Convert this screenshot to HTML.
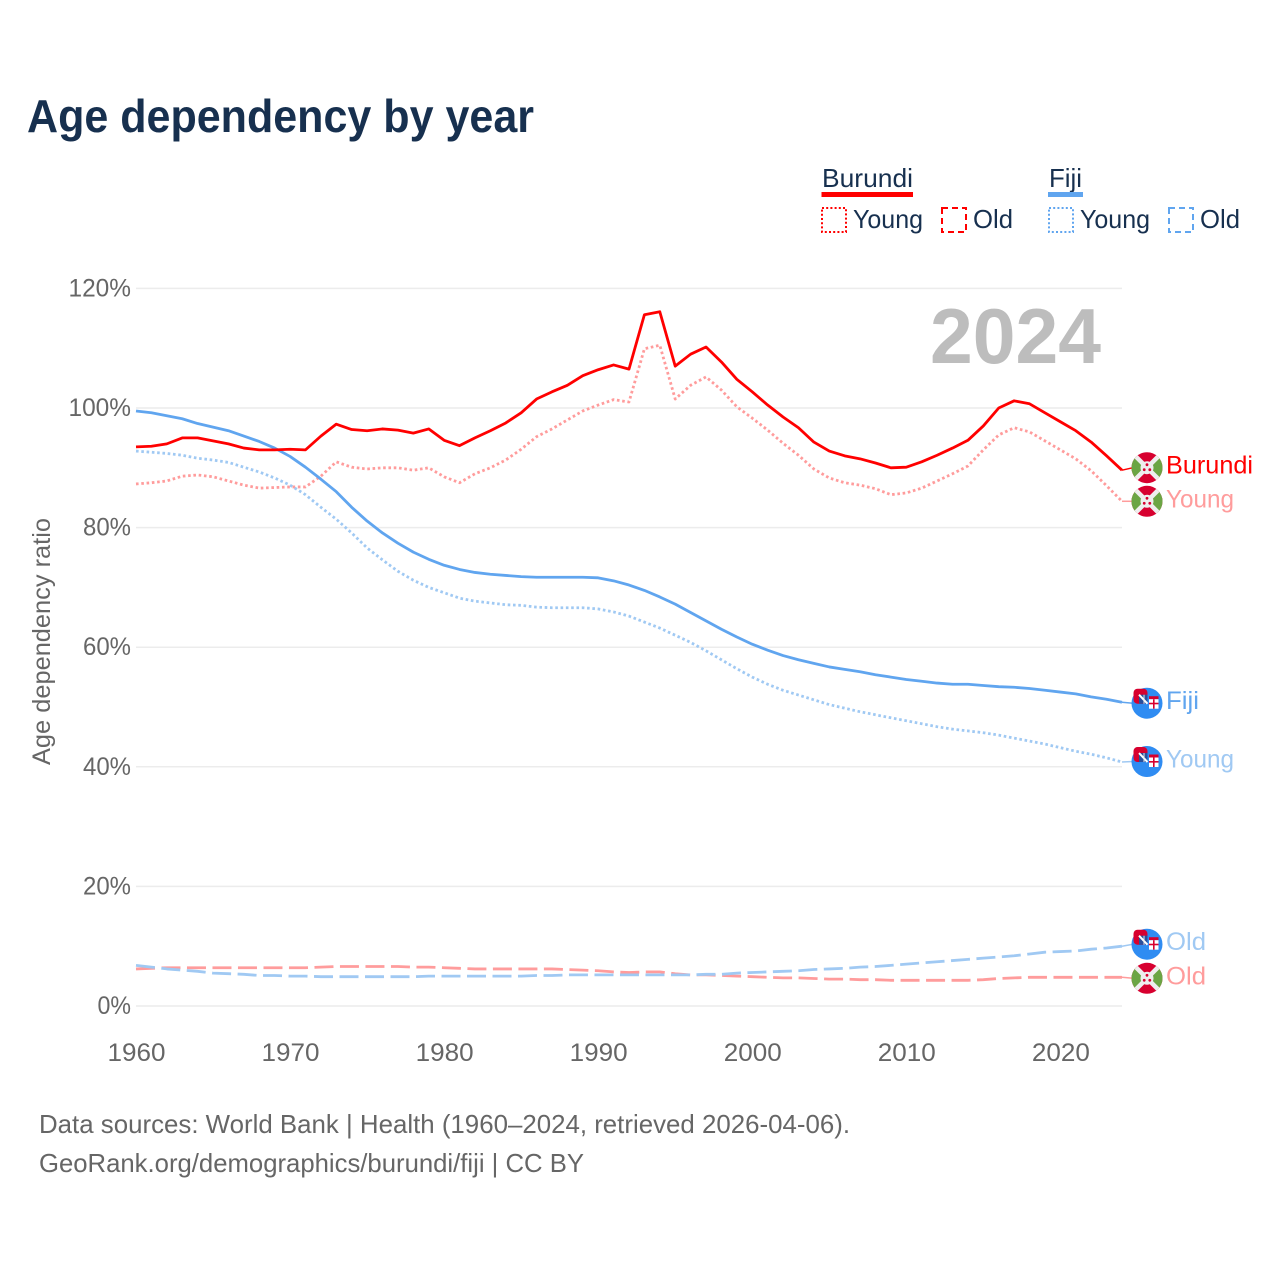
<!DOCTYPE html>
<html lang="en">
<head>
<meta charset="utf-8">
<title>Age dependency by year</title>
<style>
html,body{margin:0;padding:0;background:#fff}
svg{display:block;font-family:"Liberation Sans",Arial,sans-serif}
</style>
</head>
<body>
<svg id="chart" width="1280" height="1280" viewBox="0 0 1280 1280" xmlns="http://www.w3.org/2000/svg">
  <defs>
    <clipPath id="flag-clip"><circle cx="0" cy="0" r="15.5"/></clipPath>
    <g id="flag-burundi">
      <g clip-path="url(#flag-clip)">
        <rect x="-16" y="-16" width="32" height="32" fill="#d7002f"/>
        <polygon points="-16,-16 0,0 -16,16" fill="#6ba544"/>
        <polygon points="16,-16 0,0 16,16" fill="#6ba544"/>
        <line x1="-16" y1="-16" x2="16" y2="16" stroke="#eeeeee" stroke-width="4.5"/>
        <line x1="16" y1="-16" x2="-16" y2="16" stroke="#eeeeee" stroke-width="4.5"/>
        <circle cx="0" cy="0" r="6.5" fill="#eeeeee"/>
        <circle cx="0" cy="-3" r="1.4" fill="#d7002f"/>
        <circle cx="-2.8" cy="2" r="1.4" fill="#d7002f"/>
        <circle cx="2.8" cy="2" r="1.4" fill="#d7002f"/>
      </g>
    </g>
    <g id="flag-fiji">
      <circle cx="0" cy="0" r="15.5" fill="#2f8cf2"/>
      <rect x="-13.5" y="-14.5" width="14" height="15" rx="4" fill="#d7002f"/>
      <rect x="-8" y="-8.5" width="8.5" height="9" fill="#2a4f9c"/>
      <line x1="-8" y1="-8.5" x2="0.5" y2="0.5" stroke="#ffffff" stroke-width="2"/>
      <line x1="-3" y1="-8.5" x2="-3" y2="0.5" stroke="#e8e8e8" stroke-width="1"/>
      <rect x="2" y="-7" width="9.5" height="3" fill="#d7002f"/>
      <rect x="2" y="-4" width="9.5" height="9.5" fill="#ffffff"/>
      <rect x="6" y="-4" width="1.6" height="9.5" fill="#d7002f"/>
      <rect x="2" y="-0.5" width="9.5" height="1.6" fill="#d7002f"/>
    </g>
  </defs>

  <rect x="0" y="0" width="1280" height="1280" fill="#ffffff"/>

  <text x="27" y="132" font-size="46" font-weight="700" fill="#17304f" textLength="507" lengthAdjust="spacingAndGlyphs">Age dependency by year</text>

  <g>
    <g>
      <text x="822" y="187" font-size="26" fill="#17304f" textLength="91" lengthAdjust="spacingAndGlyphs">Burundi</text>
      <rect x="821.5" y="192" width="91.5" height="5" fill="#ff0000"/>
    </g>
    <g>
      <rect x="822" y="208" width="24" height="24" fill="none" stroke="#ff0000" stroke-width="2" stroke-dasharray="2 2.2"/>
      <text x="853" y="228" font-size="26" fill="#17304f" textLength="70" lengthAdjust="spacingAndGlyphs">Young</text>
    </g>
    <g>
      <rect x="942" y="208" width="24" height="24" fill="none" stroke="#ff0000" stroke-width="2" stroke-dasharray="6 4"/>
      <text x="973" y="228" font-size="26" fill="#17304f" textLength="40" lengthAdjust="spacingAndGlyphs">Old</text>
    </g>
    <g>
      <text x="1049" y="187" font-size="26" fill="#17304f" textLength="33" lengthAdjust="spacingAndGlyphs">Fiji</text>
      <rect x="1048" y="192" width="35" height="5" fill="#60a5ef"/>
    </g>
    <g>
      <rect x="1049" y="208" width="24" height="24" fill="none" stroke="#60a5ef" stroke-width="2" stroke-dasharray="2 2.2"/>
      <text x="1080" y="228" font-size="26" fill="#17304f" textLength="70" lengthAdjust="spacingAndGlyphs">Young</text>
    </g>
    <g>
      <rect x="1169" y="208" width="24" height="24" fill="none" stroke="#60a5ef" stroke-width="2" stroke-dasharray="6 4"/>
      <text x="1200" y="228" font-size="26" fill="#17304f" textLength="40" lengthAdjust="spacingAndGlyphs">Old</text>
    </g>
  </g>

  <g id="grid"></g>
  <g id="yticks"></g>
  <g id="xticks"></g>

  <text transform="translate(50,641.5) rotate(-90)" text-anchor="middle" font-size="25" fill="#666666" textLength="247" lengthAdjust="spacingAndGlyphs">Age dependency ratio</text>

  <text x="930" y="363" font-size="78" font-weight="700" fill="#bdbdbd" textLength="171" lengthAdjust="spacingAndGlyphs">2024</text>

  <g id="series"></g>
  <g id="endlabels"></g>

  <text x="39" y="1133" font-size="26" fill="#666666" textLength="811" lengthAdjust="spacingAndGlyphs">Data sources: World Bank | Health (1960–2024, retrieved 2026-04-06).</text>
  <text x="39" y="1172" font-size="26" fill="#666666" textLength="545" lengthAdjust="spacingAndGlyphs">GeoRank.org/demographics/burundi/fiji | CC BY</text>
</svg>

<script>
const years = [1960,1961,1962,1963,1964,1965,1966,1967,1968,1969,1970,1971,1972,1973,1974,1975,1976,1977,1978,1979,1980,1981,1982,1983,1984,1985,1986,1987,1988,1989,1990,1991,1992,1993,1994,1995,1996,1997,1998,1999,2000,2001,2002,2003,2004,2005,2006,2007,2008,2009,2010,2011,2012,2013,2014,2015,2016,2017,2018,2019,2020,2021,2022,2023,2024];
const burundiTotal = [93.5,93.6,94.0,95.0,95.0,94.5,94.0,93.3,93.0,93.0,93.1,93.0,95.3,97.3,96.4,96.2,96.5,96.3,95.8,96.5,94.6,93.7,95.0,96.2,97.5,99.2,101.5,102.7,103.8,105.4,106.4,107.2,106.5,115.6,116.1,107.0,109.0,110.2,107.7,104.8,102.7,100.5,98.5,96.7,94.3,92.8,92.0,91.5,90.8,90.0,90.1,91.0,92.1,93.3,94.6,97.0,100.0,101.2,100.7,99.2,97.7,96.2,94.3,92.0,89.6];
const burundiYoung = [87.3,87.5,87.8,88.6,88.8,88.5,87.8,87.1,86.6,86.7,86.8,86.8,88.6,91.0,90.1,89.8,90.0,90.0,89.6,90.0,88.5,87.5,89.0,90.0,91.3,93.1,95.2,96.5,98.0,99.5,100.5,101.4,101.0,109.9,110.5,101.5,103.8,105.2,103.0,100.2,98.3,96.3,94.1,92.1,89.8,88.3,87.5,87.1,86.5,85.5,85.8,86.6,87.8,89.0,90.3,93.0,95.5,96.7,96.0,94.5,93.0,91.5,89.5,87.0,84.4];
const burundiOld = [6.2,6.3,6.4,6.4,6.4,6.4,6.4,6.4,6.4,6.4,6.4,6.4,6.5,6.6,6.6,6.6,6.6,6.6,6.5,6.5,6.4,6.3,6.2,6.2,6.2,6.2,6.2,6.2,6.1,6.0,5.9,5.7,5.6,5.7,5.7,5.4,5.2,5.2,5.1,5.0,4.9,4.8,4.7,4.7,4.6,4.5,4.5,4.4,4.4,4.3,4.3,4.3,4.3,4.3,4.3,4.4,4.6,4.7,4.8,4.8,4.8,4.8,4.8,4.8,4.8];
const fijiTotal = [99.5,99.2,98.7,98.2,97.4,96.8,96.2,95.3,94.4,93.3,91.9,90.1,88.1,86.0,83.4,81.1,79.1,77.4,75.9,74.7,73.7,73.0,72.5,72.2,72.0,71.8,71.7,71.7,71.7,71.7,71.6,71.1,70.4,69.5,68.4,67.2,65.8,64.4,63.0,61.7,60.5,59.5,58.6,57.9,57.3,56.7,56.3,55.9,55.4,55.0,54.6,54.3,54.0,53.8,53.8,53.6,53.4,53.3,53.1,52.8,52.5,52.2,51.7,51.3,50.8];
const fijiYoung = [92.8,92.6,92.4,92.1,91.6,91.3,90.9,90.1,89.3,88.3,87.1,85.5,83.4,81.4,79.1,76.6,74.6,72.7,71.2,70.0,69.1,68.2,67.7,67.4,67.1,67.0,66.7,66.6,66.6,66.6,66.4,65.9,65.2,64.2,63.2,62.0,60.8,59.4,57.9,56.4,55.0,53.8,52.8,52.0,51.2,50.4,49.8,49.2,48.7,48.2,47.7,47.2,46.7,46.3,46.0,45.7,45.3,44.8,44.3,43.8,43.2,42.6,42.1,41.5,40.8];
const fijiOld = [6.8,6.5,6.2,6.0,5.8,5.5,5.4,5.3,5.1,5.1,5.0,5.0,4.9,4.9,4.9,4.9,4.9,4.9,4.9,5.0,5.0,5.0,5.0,5.0,5.0,5.0,5.1,5.1,5.2,5.2,5.2,5.2,5.2,5.2,5.2,5.2,5.2,5.3,5.3,5.5,5.6,5.7,5.8,5.9,6.1,6.2,6.3,6.5,6.6,6.8,7.0,7.2,7.4,7.6,7.8,8.0,8.2,8.4,8.7,9.0,9.1,9.2,9.5,9.7,10.0];
const yTickValues = [0,20,40,60,80,100,120];
const xTickYears = [1960,1970,1980,1990,2000,2010,2020];

const NS = 'http://www.w3.org/2000/svg';
function xScale(year) { return 136 + (year - 1960) * 15.406; }
function yScale(pct) { return 1006 - pct * 5.98; }
function make(tag, parent, attrs) {
  const el = document.createElementNS(NS, tag);
  for (const k in attrs) el.setAttribute(k, attrs[k]);
  parent.appendChild(el);
  return el;
}

const gridG = document.getElementById('grid');
const yG = document.getElementById('yticks');
const xG = document.getElementById('xticks');
yTickValues.forEach(function (v) {
  const line = make('line', gridG, { x1: 136, x2: 1122, y1: yScale(v), y2: yScale(v), stroke: '#ececec', 'stroke-width': 1.5 });
  
  
  const label = v + '%';
  const t = make('text', yG, { x: 131, y: yScale(v) + 8, 'text-anchor': 'end', 'font-size': 25, fill: '#666666', textLength: String(v).length * 14.5 + 19, lengthAdjust: 'spacingAndGlyphs' });
  
  
  t.textContent = label;
});
xTickYears.forEach(function (yr) {
  const t = make('text', xG, { x: xScale(yr) + 0.5, y: 1061, 'text-anchor': 'middle', 'font-size': 25, fill: '#666666', textLength: 58, lengthAdjust: 'spacingAndGlyphs' });
  
  
  t.textContent = yr;
});

const seriesG = document.getElementById('series');
const labelsG = document.getElementById('endlabels');
function drawLine(values, color, dash, name) {
  let d = '';
  values.forEach(function (v, i) {
    d += (i ? 'L' : 'M') + xScale(years[i]).toFixed(2) + ' ' + yScale(v).toFixed(2);
  });
  const attrs = { d: d, fill: 'none', stroke: color, 'stroke-width': 2.8, 'stroke-linejoin': 'round' };
  if (dash) attrs['stroke-dasharray'] = dash;
  const p = make('path', seriesG, attrs);
  
  
}
function drawEnd(values, flag, text, width, color, nudge, name) {
  const last = yScale(values[values.length - 1]);
  const cy = last + nudge;
  const leader = make('line', labelsG, { x1: xScale(years[years.length - 1]), y1: last, x2: 1133, y2: cy, stroke: color, 'stroke-width': 1.5 });
  
  
  const u = make('use', labelsG, { href: '#flag-' + flag, transform: 'translate(1147,' + cy + ')' });
  
  
  const t = make('text', labelsG, { x: 1166, y: cy + 6, 'font-size': 25, fill: color, textLength: width, lengthAdjust: 'spacingAndGlyphs' });
  
  
  t.textContent = text;
}

drawLine(burundiOld, '#ff9c9c', '19 6.5', 'line-burundi-old');
drawLine(fijiOld, '#a0c9f3', '19 6.5', 'line-fiji-old');
drawLine(burundiYoung, '#ff9c9c', '2.6 2.7', 'line-burundi-young');
drawLine(fijiYoung, '#a0c9f3', '2.6 2.7', 'line-fiji-young');
drawLine(fijiTotal, '#60a5ef', null, 'line-fiji-total');
drawLine(burundiTotal, '#ff0000', null, 'line-burundi-total');

drawEnd(burundiTotal, 'burundi', 'Burundi', 87, '#ff0000', -2.5, 'end-burundi');
drawEnd(burundiYoung, 'burundi', 'Young', 68, '#ff9c9c', 0, 'end-burundi-young');
drawEnd(fijiTotal, 'fiji', 'Fiji', 33, '#60a5ef', 1, 'end-fiji');
drawEnd(fijiYoung, 'fiji', 'Young', 68, '#a0c9f3', -0.5, 'end-fiji-young');
drawEnd(fijiOld, 'fiji', 'Old', 40, '#a0c9f3', -2, 'end-fiji-old');
drawEnd(burundiOld, 'burundi', 'Old', 40, '#ff9c9c', 1, 'end-burundi-old');
</script>
</body>
</html>
